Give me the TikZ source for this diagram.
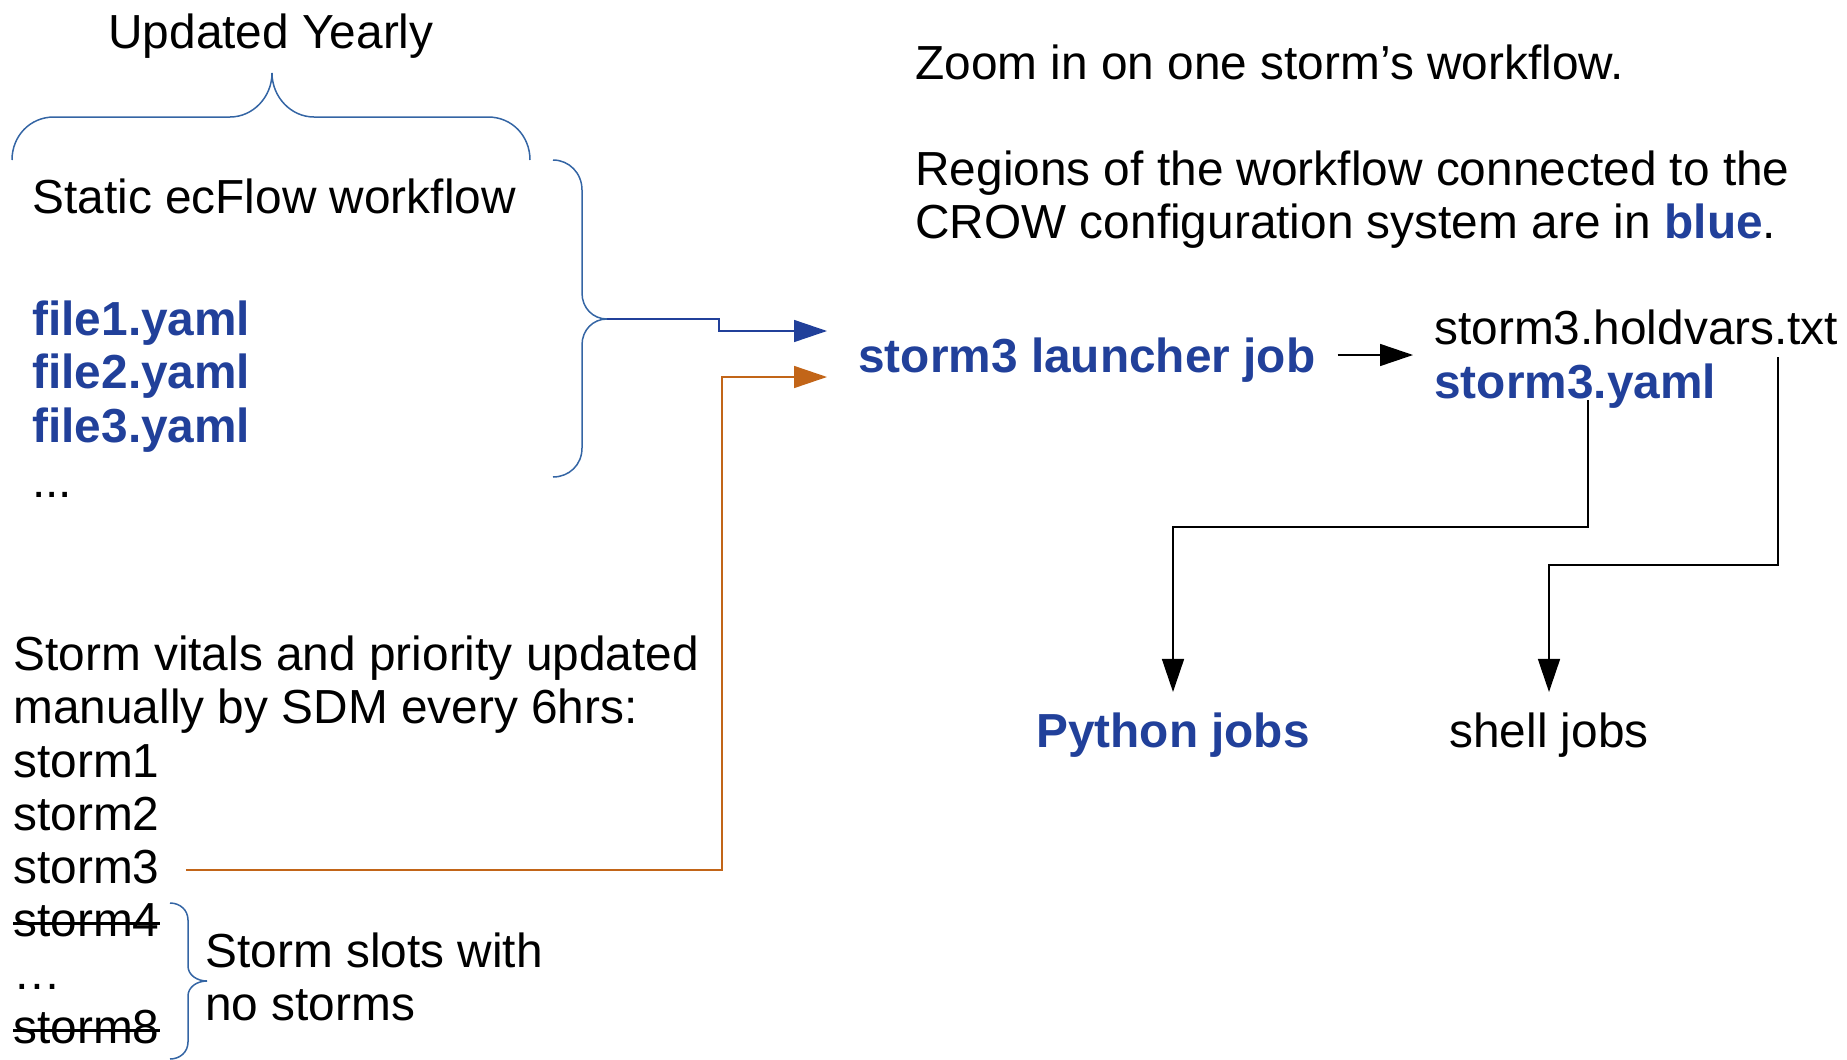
\documentclass[tikz,border=0pt]{standalone}
\usepackage{fontspec}
\setmainfont{Liberation Sans}
\usetikzlibrary{arrows.meta}
\definecolor{crowblue}{HTML}{21409A}
\definecolor{bracecol}{HTML}{3465A4}
\definecolor{stormorange}{HTML}{C26518}
\newcommand{\bodyfont}{\fontsize{23.9}{27.2}\selectfont}
\tikzset{
	txt/.style={anchor=base west, inner sep=0pt, font=\bodyfont},
	crow/.style={txt, font=\bodyfont\bfseries, text=crowblue},
	brace/.style={draw=bracecol, line width=0.75pt},
	conn/.style={line width=0.75pt, -{Triangle[length=16.5pt,width=11pt]}},
	strike/.style={line width=1.15pt},
}
\begin{document}
\begin{tikzpicture}[x=0.5pt,y=-0.5pt]
	\useasboundingbox (0,0) rectangle (1847,1060);

	% yearly part
	\node[txt] (upd) at (108,48) {Updated Yearly};
	\node[txt] (static) at (32,213) {Static ecFlow workflow};
	\foreach \i/\y in {1/335,2/388,3/442}{
		\node[crow] (f\i) at (32,\y) {file\i.yaml};
	}
	\node[txt] (fdots) at (32,497) {...};

	\draw[brace] (12,160) .. controls (12,136) and (30,117) .. (54,117) -- (230,117)
		.. controls (253,117) and (272,97) .. (272,73)
		.. controls (272,97) and (291,117) .. (314,117) -- (488,117)
		.. controls (512,117) and (530,136) .. (530,160);
	\draw[brace] (553,160) .. controls (569,160) and (582,173) .. (582,190) -- (582,293)
		.. controls (582,308) and (593,319) .. (607,319)
		.. controls (593,319) and (582,330) .. (582,345) -- (582,448)
		.. controls (582,465) and (569,477) .. (553,477);
	\coordinate (bt) at (607,319);

	% storm slots
	\node[txt] (vit1) at (13,670) {Storm vitals and priority updated};
	\node[txt] (vit2) at (13,723) {manually by SDM every 6hrs:};
	\foreach \i/\y in {1/777,2/830,3/883}{
		\node[txt] (s\i) at (13,\y) {storm\i};
	}
	\node[txt] (s4) at (13,936) {storm4};
	\node[txt] (sdots) at (13,989) {…};
	\node[txt] (s8) at (13,1043) {storm8};
	\foreach \n in {s4,s8}{
		\draw[strike] ([yshift=6.3pt]\n.base west) -- ([yshift=6.3pt]\n.base east);
	}
	\draw[brace] (170,903) .. controls (180,903) and (188,910) .. (188,920) -- (188,966)
		.. controls (188,975) and (197,981) .. (207,981)
		.. controls (197,981) and (188,987) .. (188,996) -- (188,1042)
		.. controls (188,1052) and (180,1059) .. (170,1059);
	\node[txt] (slots1) at (205,967) {Storm slots with};
	\node[txt] (slots2) at (205,1020) {no storms};

	% one storm
	\node[txt] (zoom) at (915,79) {Zoom in on one storm’s workflow.};
	\node[txt] (reg1) at (915,185) {Regions of the workflow connected to the};
	\node[txt] (reg2) at (915,238) {CROW configuration system are in \textcolor{crowblue}{\bfseries blue}.};

	\node[crow] (launch) at (858,372) {storm3 launcher job};
	\node[txt] (hold) at (1434,344) {storm3.holdvars.txt};
	\node[crow] (yml) at (1434,398) {storm3.yaml};
	\node[crow, anchor=base] (py) at (1173,747) {Python jobs};
	\node[txt, anchor=base] (sh) at (1549,747) {shell jobs};

	\coordinate (in1) at ([xshift=-15.5pt,yshift=20.5pt]launch.base west);
	\coordinate (in2) at ([xshift=-15.5pt,yshift=-2.5pt]launch.base west);

	\draw[conn, crowblue] (bt) -- (719,319) |- (in1);
	\draw[conn, stormorange] ([xshift=13pt,yshift=6.5pt]s3.base east) -| ([xshift=-52.5pt]in2) -- (in2);
	\draw[conn] ([xshift=11pt,yshift=8.5pt]launch.base east) -- ([xshift=-10.5pt,yshift=-5.5pt]hold.base west);
	\draw[conn] ([xshift=6.5pt,yshift=-1pt]yml.base) -- ++(0,127) -| ([yshift=10pt]py.north);
	\draw[conn] ([xshift=172pt,yshift=-6.5pt]hold.base west) -- ++(0,208) -| ([yshift=10pt]sh.north);
\end{tikzpicture}
\end{document}
